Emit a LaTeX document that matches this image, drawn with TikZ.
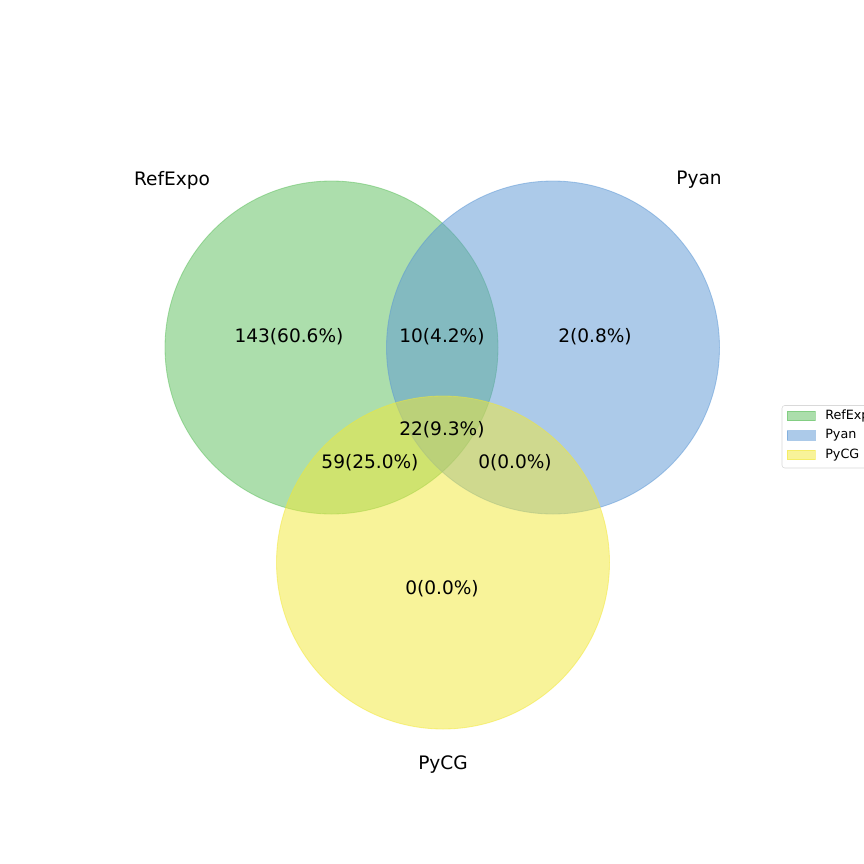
\documentclass[tikz,border=0pt]{standalone}
\usepackage{fontspec}
\setmainfont{DejaVu Sans}
\usepackage{tikz}
\usepackage{xcolor}
\definecolor{setA}{RGB}{91,191,91}
\definecolor{setB}{RGB}{91,151,213}
\definecolor{setC}{RGB}{243,232,52}

\begin{document}
\begin{tikzpicture}[
  x=0.01in,y=-0.01in,
  venn/.style={fill=#1,fill opacity=0.5,draw=#1,draw opacity=0.5,line width=0.6pt},
  lbl/.style={font=\fontsize{13.4}{15}\selectfont,inner sep=0pt},
  leg/.style={font=\fontsize{9.2}{11}\selectfont,inner sep=0pt,anchor=west},
  patch/.style={fill=#1,fill opacity=0.5,draw=#1,draw opacity=0.5,line width=0.5pt}
]
\clip (0,0) rectangle (864,864);
\fill[white] (0,0) rectangle (864,864);
% the three sets
\path[venn=setA] (331.5,347.5) circle[radius=166.5];
\path[venn=setB] (553,347.5) circle[radius=166.5];
\path[venn=setC] (443,562.5) circle[radius=166.5];
% set names
\node[lbl] (nA) at (172,180) {RefExpo};
\node[lbl] (nB) at (699,180) {Pyan};
\node[lbl] (nC) at (443,765) {PyCG};
% region counts
\node[lbl] (rA) at (289,337) {143(60.6\%)};
\node[lbl] (rAB) at (442,337) {10(4.2\%)};
\node[lbl] (rB) at (595,337) {2(0.8\%)};
\node[lbl] (rABC) at (442,430) {22(9.3\%)};
\node[lbl] (rAC) at (370,463) {59(25.0\%)};
\node[lbl] (rBC) at (515,463) {0(0.0\%)};
\node[lbl] (rC) at (442,589) {0(0.0\%)};
% legend
\draw[gray!30,fill=white,fill opacity=0.8,rounded corners=2pt] (782,405.5) rectangle (900,468);
\path[patch=setA] (787,411) rectangle (815,420.5);
\path[patch=setB] (787,430.5) rectangle (815,440);
\path[patch=setC] (787,450) rectangle (815,459.5);
\node[leg] (lA) at (825,416) {RefExpo};
\node[leg] (lB) at (825,435.5) {Pyan};
\node[leg] (lC) at (825,455) {PyCG};
\end{tikzpicture}
\end{document}
